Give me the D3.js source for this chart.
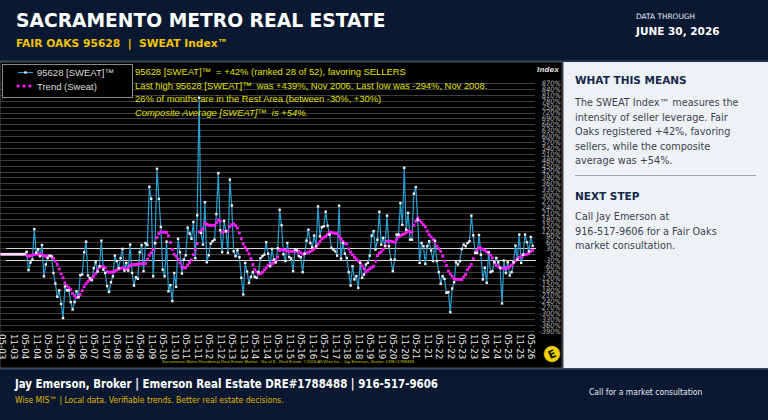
<!DOCTYPE html>
<html>
<head>
<meta charset="utf-8">
<script src="https://cdn.jsdelivr.net/npm/d3@7"></script>
<style>
  body { margin: 0; background: #0a1931; }
  svg { display: block; }
</style>
</head>
<body>
<svg id="chart" width="768" height="420"></svg>
<script>
// monthly SWEAT index, May 2003 .. Jun 2026
const sweat = [
  0, 0, 0, 0, 0, 0, 0, 0, 0, 0,
  0, 0, 0, 12, -81, -42, -27, 127, 8, 24,
  -10, 47, -112, -52, -19, -7, -10, -95, -149, -216,
  -184, -252, -324, -164, -184, -184, -243, -281, -243, -188,
  -218, -106, -103, 10, 64, -108, -122, -132, -71, -41,
  -88, -61, 69, -78, -95, -162, -191, -142, -112, -7,
  -35, -71, -20, 27, -83, -44, -83, 49, -95, -159,
  -117, -125, 10, 47, -86, 57, 47, 343, 282, -112,
  57, 434, 281, 139, -78, -112, 64, -188, -157, -238,
  -95, -166, 78, 10, -98, -27, -5, 135, 105, 79,
  164, -20, 198, 795, 108, 49, 264, -41, -5, 54,
  66, 74, 204, 412, 122, 10, 169, 117, 7, 379,
  248, 15, -10, 20, -15, -120, -204, -44, -88, -145,
  -115, -91, -115, -120, -91, -20, -10, -2, 61, 3,
  -61, 27, -27, -41, 30, 226, 147, 0, -35, 57,
  -15, -22, -86, 24, 20, -10, -15, -91, 2, 69,
  125, 57, 35, 95, 41, 243, 91, 137, 142, 216,
  145, 100, 32, 24, 15, -7, 247, -22, 57, 3,
  -19, -91, -159, -61, -128, -111, -171, -44, -120, -103,
  -52, -44, -7, 95, 117, 24, 74, 216, 49, 83,
  41, 196, 41, -27, -86, -27, 100, 100, 260, 149,
  439, 125, 210, 74, 74, 308, 341, 176, -44, 57,
  41, -49, 41, 66, 19, -35, 69, -35, -91, -150,
  -111, -125, -196, -193, -294, -174, -142, -41, -52, -35,
  27, 49, 41, 57, 66, 196, 96, 7, 7, 98,
  -2, -128, -69, -145, 10, -91, -86, -41, -19, -41,
  -69, -250, -32, -95, -41, -108, -91, -41, 44, -27,
  100, -44, -2, 100, 61, 15, 88, 42
];

// trend (sweat), same months
const trend = [
  0, 0, 0, 0, 0, 0, 0, 0, 0, 0,
  0, 0, 0, -5, -10, -8, -4, -2, 0, 0,
  0, -3, -8, -10, -10, -10, -12, -20, -35, -52,
  -75, -100, -120, -145, -160, -170, -180, -200, -212, -220,
  -218, -206, -185, -165, -150, -138, -130, -122, -112, -98,
  -80, -65, -62, -64, -68, -88, -92, -91, -90, -86,
  -80, -76, -72, -69, -72, -76, -72, -58, -52, -52,
  -52, -51, -49, -48, -47, -47, -25, -5, 8, 25,
  55, 85, 105, 115, 112, 111, 111, 95, 60, 25,
  0, -10, -25, -45, -65, -69, -68, -55, -42, -29,
  -2, 24, 54, 113, 117, 130, 157, 152, 148, 147,
  147, 147, 160, 174, 167, 111, 117, 117, 117, 140,
  150, 154, 145, 133, 108, 78, 52, 35, 20, 2,
  -22, -52, -78, -90, -100, -98, -92, -80, -69, -57,
  -52, -48, -44, -30, -14, 19, 24, 22, 20, 16,
  14, 15, 15, 15, 15, 15, 8, 0, 3, 7,
  10, 14, 20, 27, 40, 51, 65, 78, 85, 91,
  100, 112, 110, 108, 106, 105, 90, 78, 65, 55,
  52, 27, 10, -2, -15, -24, -35, -44, -60, -74,
  -90, -82, -74, -67, -61, -35, -7, 5, 12, 25,
  44, 66, 66, 66, 63, 61, 75, 88, 95, 100,
  103, 110, 117, 114, 112, 147, 167, 184, 172, 162,
  150, 139, 117, 100, 88, 75, 63, 41, 28, 15,
  -10, -35, -57, -86, -100, -112, -125, -127, -128, -128,
  -128, -115, -103, -78, -65, -52, -22, 7, 20, 32,
  30, 25, 20, 12, 7, -5, -19, -41, -54, -62,
  -69, -72, -74, -70, -69, -64, -55, -44, -34, -24,
  -15, -10, -5, -2, 0, 5, 14, 20
];

// half-year tick labels (every 6th month from May 2003)
const xTickLabels = [
  "05-03", "11-03", "05-04", "11-04", "05-05", "11-05", "05-06", "11-06",
  "05-07", "11-07", "05-08", "11-08", "05-09", "11-09", "05-10", "11-10",
  "05-11", "11-11", "05-12", "11-12", "05-13", "11-13", "05-14", "11-14",
  "05-15", "11-15", "05-16", "11-16", "05-17", "11-17", "05-18", "11-18",
  "05-19", "11-19", "05-20", "11-20", "05-21", "11-21", "05-22", "11-22",
  "05-23", "11-23", "05-24", "11-24", "05-25", "11-25", "05-26"
];

const yTicks = d3.range(-390, 871, 30);
const restBand = [-30, 30];

const infoLines = [
  "95628 [SWEAT]™  = +42% (ranked 28 of 52), favoring SELLERS",
  "Last high 95628 [SWEAT]™  was +439%, Nov 2006. Last low was -294%, Nov 2008.",
  "26% of months are in the Rest Area (between -30%, +30%)",
  "Composite Average [SWEAT]™  is +54%."
];

const meansLines = [
  "The SWEAT Index™ measures the",
  "intensity of seller leverage. Fair",
  "Oaks registered +42%, favoring",
  "sellers, while the composite",
  "average was +54%."
];
const nextLines = [
  "Call Jay Emerson at",
  "916-517-9606 for a Fair Oaks",
  "market consultation."
];

const svg = d3.select("#chart");
const W = 768, H = 420;

// header / footer background
svg.append("rect").attr("width", W).attr("height", H).attr("fill", "#0a1931");
svg.append("rect").attr("x", 0).attr("y", 60).attr("width", W).attr("height", 2).attr("fill", "#24334d");

svg.append("text").attr("x", 16).attr("y", 27)
  .attr("font-family", "DejaVu Sans").attr("font-weight", "bold").attr("font-size", 18.7)
  .attr("fill", "#ffffff").text("SACRAMENTO METRO REAL ESTATE");
svg.append("text").attr("x", 16).attr("y", 47)
  .attr("font-family", "DejaVu Sans").attr("font-weight", "bold").attr("font-size", 10.7)
  .attr("fill", "#f2c200").attr("xml:space", "preserve")
  .text("FAIR OAKS 95628  |  SWEAT Index™");
svg.append("text").attr("x", 636).attr("y", 19)
  .attr("font-family", "DejaVu Sans").attr("font-size", 7.4)
  .attr("fill", "#e6e9ef").text("DATA THROUGH");
svg.append("text").attr("x", 636).attr("y", 35)
  .attr("font-family", "DejaVu Sans").attr("font-weight", "bold").attr("font-size", 10.5)
  .attr("fill", "#ffffff").text("JUNE 30, 2026");

// chart panel
const plot = {left: 0, top: 62, right: 562, bottom: 368};
svg.append("rect").attr("x", plot.left).attr("y", plot.top)
  .attr("width", plot.right - plot.left).attr("height", plot.bottom - plot.top)
  .attr("fill", "#000").attr("stroke", "#555").attr("stroke-width", 1);

const x = d3.scaleLinear()
  .domain([0, sweat.length - 1])
  .range([1.7, 532.7]);

const y = d3.scaleLinear()
  .domain([-390, 870])
  .range([331, 83]);

const g = svg.append("g");

// gridlines
g.selectAll("line.grid").data(yTicks).join("line")
  .attr("class", "grid")
  .attr("x1", 0).attr("x2", 535)
  .attr("y1", d => Math.round(y(d)) + 0.5).attr("y2", d => Math.round(y(d)) + 0.5)
  .attr("stroke", "#3d3d3d").attr("stroke-width", 1);

// rest area bounds
g.selectAll("line.rest").data(restBand).join("line")
  .attr("class", "rest")
  .attr("x1", 6).attr("x2", 536)
  .attr("y1", d => Math.round(y(d)) + 0.5).attr("y2", d => Math.round(y(d)) + 0.5)
  .attr("stroke", "#d8d8d8").attr("stroke-width", 1);

// y axis on the right
const yAxis = d3.axisRight(y).tickValues(yTicks).tickSize(0).tickFormat(d => d + "%");
const yAxisG = g.append("g").attr("transform", "translate(538,0)").call(yAxis);
yAxisG.select(".domain").remove();
yAxisG.selectAll("text")
  .attr("x", 23).attr("text-anchor", "end")
  .attr("font-family", "DejaVu Sans Condensed").attr("font-style", "italic").attr("font-size", 7.5)
  .attr("fill", "#b8b8b8");
svg.append("text").attr("x", 537).attr("y", 72)
  .attr("font-family", "DejaVu Sans").attr("font-style", "italic").attr("font-weight", "bold")
  .attr("font-size", 7).attr("fill", "#d8d8d8").text("Index");

// x axis labels, rotated
const xAxis = d3.axisBottom(x)
  .tickValues(xTickLabels.map((d, i) => i * 6))
  .tickSize(0)
  .tickFormat((d, i) => xTickLabels[i]);
const xAxisG = g.append("g").attr("transform", "translate(0,333)").call(xAxis);
xAxisG.select(".domain").remove();
xAxisG.selectAll("text")
  .attr("transform", "rotate(90)")
  .attr("x", 1).attr("y", 0).attr("dy", "0.35em")
  .attr("text-anchor", "start")
  .attr("font-family", "DejaVu Sans").attr("font-size", 8.7)
  .attr("fill", "#e8e8e8");

// sweat line
const line = d3.line().x((d, i) => x(i)).y(d => y(d));
g.append("path").datum(sweat)
  .attr("fill", "none").attr("stroke", "#2a9fd2").attr("stroke-width", 1.2)
  .attr("d", line);

// trend dots
g.selectAll("rect.trend").data(trend).join("rect")
  .attr("class", "trend")
  .attr("x", (d, i) => x(i) - 1.4).attr("y", d => y(d) - 1.4)
  .attr("width", 2.8).attr("height", 2.8)
  .attr("fill", "#ff1cff");

// sweat markers
g.selectAll("rect.pt").data(sweat).join("rect")
  .attr("class", "pt")
  .attr("x", (d, i) => x(i) - 1.2).attr("y", d => y(d) - 1.2)
  .attr("width", 2.4).attr("height", 2.4)
  .attr("fill", "#f4f4f4");

// legend
const lg = svg.append("g");
lg.append("rect").attr("x", 2.5).attr("y", 64.5).attr("width", 130).attr("height", 33)
  .attr("fill", "#000").attr("stroke", "#8a8a8a");
lg.append("line").attr("x1", 18).attr("x2", 33).attr("y1", 72.5).attr("y2", 72.5)
  .attr("stroke", "#2a9fd2").attr("stroke-width", 1.2);
lg.append("rect").attr("x", 24.3).attr("y", 71.3).attr("width", 2.4).attr("height", 2.4).attr("fill", "#f4f4f4");
lg.selectAll("rect.ld").data([18, 24, 30]).join("rect")
  .attr("class", "ld").attr("x", d => d - 1.4).attr("y", 84.6).attr("width", 2.8).attr("height", 2.8)
  .attr("fill", "#ff1cff");
lg.append("text").attr("x", 37).attr("y", 76).attr("font-family", "Liberation Sans")
  .attr("font-size", 9.5).attr("fill", "#dddddd").text("95628 [SWEAT]™");
lg.append("text").attr("x", 37).attr("y", 90).attr("font-family", "Liberation Sans")
  .attr("font-size", 9.5).attr("fill", "#dddddd").text("Trend (Sweat)");

// info text
svg.append("g").selectAll("text").data(infoLines).join("text")
  .attr("x", 135).attr("y", (d, i) => 75 + i * 13.6)
  .attr("font-family", "Liberation Sans").attr("font-size", 9.4)
  .attr("font-style", (d, i) => i === 3 ? "italic" : "normal")
  .attr("fill", "#e2e000").attr("xml:space", "preserve")
  .text(d => d);

// tiny source credit
svg.append("text").attr("x", 162).attr("y", 363)
  .attr("font-family", "Liberation Sans").attr("font-size", 4.3).attr("fill", "#c8c000")
  .text("Sacramento Metro Residential Real Estate Market - No of $ - Real Estate, ©2026 All Wise Inc - Jay Emerson, Broker. DRE#1788488");

// logo
const logo = svg.append("g").attr("transform", "translate(552,354)");
logo.append("circle").attr("r", 8.5).attr("fill", "#f3d100").attr("stroke", "#111").attr("stroke-width", 1);
logo.append("text").attr("text-anchor", "middle").attr("dy", "0.36em")
  .attr("transform", "rotate(-25)")
  .attr("font-family", "DejaVu Sans").attr("font-weight", "bold").attr("font-size", 11)
  .attr("fill", "#111").text("E");

// right panel
svg.append("rect").attr("x", 563).attr("y", 62).attr("width", 205).attr("height", 307)
  .attr("fill", "#eef2f6");
svg.append("line").attr("x1", 563.5).attr("x2", 563.5).attr("y1", 62).attr("y2", 369)
  .attr("stroke", "#9aa3ae");

svg.append("text").attr("x", 575).attr("y", 84)
  .attr("font-family", "DejaVu Sans").attr("font-weight", "bold").attr("font-size", 10.5)
  .attr("fill", "#14284a").text("WHAT THIS MEANS");
svg.append("g").selectAll("text").data(meansLines).join("text")
  .attr("x", 575).attr("y", (d, i) => 106 + i * 14.5)
  .attr("font-family", "DejaVu Sans").attr("font-size", 9.7)
  .attr("fill", "#3a4250").text(d => d);
svg.append("line").attr("x1", 575).attr("x2", 756).attr("y1", 175.5).attr("y2", 175.5)
  .attr("stroke", "#a0a6ae");
svg.append("text").attr("x", 575).attr("y", 200)
  .attr("font-family", "DejaVu Sans").attr("font-weight", "bold").attr("font-size", 10.5)
  .attr("fill", "#14284a").text("NEXT STEP");
svg.append("g").selectAll("text").data(nextLines).join("text")
  .attr("x", 575).attr("y", (d, i) => 220 + i * 14.5)
  .attr("font-family", "DejaVu Sans").attr("font-size", 9.7)
  .attr("fill", "#3a4250").text(d => d);

// footer
svg.append("rect").attr("x", 0).attr("y", 368).attr("width", W).attr("height", 1.5).attr("fill", "#3a4660");
svg.append("text").attr("x", 15).attr("y", 388)
  .attr("font-family", "DejaVu Sans Condensed").attr("font-weight", "bold").attr("font-size", 11.4)
  .attr("fill", "#ffffff").text("Jay Emerson, Broker | Emerson Real Estate DRE#1788488 | 916-517-9606");
svg.append("text").attr("x", 15).attr("y", 403)
  .attr("font-family", "DejaVu Sans Condensed").attr("font-size", 8.5)
  .attr("fill", "#e0b800").text("Wise MIS™ | Local data. Verifiable trends. Better real estate decisions.");
svg.append("text").attr("x", 589).attr("y", 395)
  .attr("font-family", "DejaVu Sans Condensed").attr("font-size", 8.5)
  .attr("fill", "#e6e9ef").text("Call for a market consultation");
</script>
</body>
</html>
